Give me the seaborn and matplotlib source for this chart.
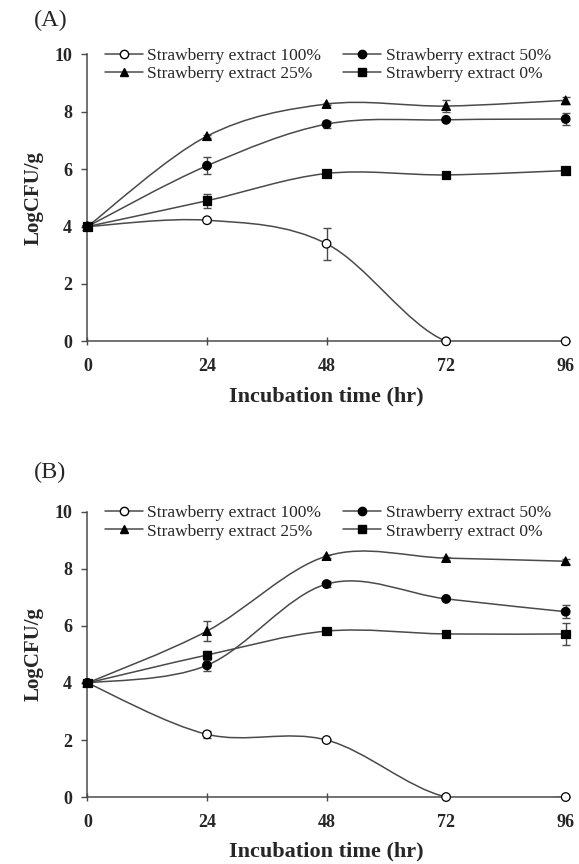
import numpy as np
import pandas as pd
import seaborn as sns
import matplotlib
matplotlib.use("Agg")
import matplotlib.pyplot as plt
from matplotlib.path import Path
from matplotlib.patches import PathPatch
from matplotlib.lines import Line2D

# ---------------- data ----------------
hours = [0, 24, 48, 72, 96]
series_names = ["Strawberry extract 100%", "Strawberry extract 50%",
                "Strawberry extract 25%", "Strawberry extract 0%"]

# Panel A
a_100 = [4.0, 4.22, 3.4, 0.0, 0.0]
a_100_err = [0.0, 0.05, 0.55, 0.0, 0.0]
a_50 = [4.0, 6.12, 7.57, 7.72, 7.75]
a_50_err = [0.0, 0.3, 0.12, 0.05, 0.22]
a_25 = [4.0, 7.15, 8.27, 8.2, 8.4]
a_25_err = [0.0, 0.05, 0.05, 0.22, 0.12]
a_0 = [4.0, 4.9, 5.85, 5.8, 5.95]
a_0_err = [0.0, 0.25, 0.1, 0.05, 0.1]

# Panel B
b_100 = [4.0, 2.2, 2.0, 0.0, 0.0]
b_100_err = [0.0, 0.12, 0.05, 0.0, 0.0]
b_50 = [4.0, 4.62, 7.47, 6.95, 6.5]
b_50_err = [0.0, 0.2, 0.1, 0.05, 0.22]
b_25 = [4.0, 5.82, 8.45, 8.38, 8.27]
b_25_err = [0.0, 0.35, 0.05, 0.05, 0.08]
b_0 = [4.0, 4.98, 5.82, 5.72, 5.72]
b_0_err = [0.0, 0.15, 0.1, 0.05, 0.4]

panel_titles = ["(A)", "(B)"]
y_ticks = [0, 2, 4, 6, 8, 10]
xlabel_text = "Incubation time (hr)"
ylabel_text = "LogCFU/g"

markers = {series_names[0]: "o", series_names[1]: "o",
           series_names[2]: "^", series_names[3]: "s"}
facecols = {series_names[0]: "white", series_names[1]: "black",
            series_names[2]: "black", series_names[3]: "black"}

LINE_C = "#4a4a4a"

sns.set_theme(style="ticks")
plt.rcParams["font.family"] = ["Liberation Serif", "DejaVu Serif"]

fig = plt.figure(figsize=(5.79, 8.64), dpi=100)
axA = fig.add_axes([0.151, 0.605, 0.826, 0.332])
axB = fig.add_axes([0.151, 0.0775, 0.826, 0.330])


def smooth_path(xs, ys):
    # Excel-style smoothed line as cubic Bezier segments
    P = list(zip(xs, ys))
    n = len(P)
    verts = [P[0]]
    codes = [Path.MOVETO]
    for i in range(n - 1):
        p0 = P[i - 1] if i > 0 else P[i]
        p1 = P[i]
        p2 = P[i + 1]
        p3 = P[i + 2] if i + 2 < n else P[i + 1]
        c1 = (p1[0] + (p2[0] - p0[0]) / 6.0, p1[1] + (p2[1] - p0[1]) / 6.0)
        c2 = (p2[0] - (p3[0] - p1[0]) / 6.0, p2[1] - (p3[1] - p1[1]) / 6.0)
        verts += [c1, c2, p2]
        codes += [Path.CURVE4, Path.CURVE4, Path.CURVE4]
    return Path(verts, codes)


def draw_panel(ax, vals, errs, title, title_y):
    rows = []
    for name, v in zip(series_names, vals):
        for h, y in zip(hours, v):
            rows.append({"hour": h, "value": y, "series": name})
    df = pd.DataFrame(rows)

    for name, v, e in zip(series_names, vals, errs):
        ax.add_patch(PathPatch(smooth_path(hours, v), fill=False,
                               edgecolor=LINE_C, lw=1.1, zorder=2,
                               clip_on=True))
        ax.errorbar(hours, v, yerr=e, fmt="none", ecolor=LINE_C,
                    elinewidth=1.0, capsize=3, capthick=1.0, zorder=3,
                    clip_on=False)

    sns.scatterplot(data=df, x="hour", y="value", hue="series",
                    style="series", markers=markers, palette=facecols,
                    edgecolor="black", linewidth=0.9, s=38, legend=False,
                    ax=ax, zorder=4, clip_on=False)

    ax.set_xlim(0, 96)
    ax.set_ylim(0, 10)
    ax.set_xticks(hours)
    ax.set_yticks(y_ticks)
    for lab in ax.get_xticklabels() + ax.get_yticklabels():
        lab.set_fontweight("bold")
        lab.set_fontsize(13)
    ax.tick_params(axis="x", direction="inout", length=6, width=1.0,
                   color=LINE_C, pad=9)
    ax.tick_params(axis="y", direction="out", length=4, width=1.0,
                   color=LINE_C, pad=7)
    sns.despine(ax=ax)
    for s in ["left", "bottom"]:
        ax.spines[s].set_color(LINE_C)
        ax.spines[s].set_linewidth(1.1)
    ax.set_xlabel(xlabel_text, fontsize=16, fontweight="bold", labelpad=8)
    ax.set_ylabel(ylabel_text, fontsize=15, fontweight="bold", labelpad=8)

    handles = []
    for name in [series_names[0], series_names[2], series_names[1], series_names[3]]:
        handles.append(Line2D([0], [0], color=LINE_C, lw=1.1,
                              marker=markers[name], markersize=6,
                              markerfacecolor=facecols[name],
                              markeredgecolor="black"))
    order_txt = [series_names[0], series_names[2], series_names[1], series_names[3]]
    ax.legend(handles, order_txt, loc="upper left", bbox_to_anchor=(0.022, 1.048),
              ncol=2, frameon=False, fontsize=12.5, handlelength=2.2,
              handletextpad=0.25, columnspacing=1.25, labelspacing=0.12,
              borderaxespad=0.0)

    ax.text(-0.113, title_y, title, transform=ax.transAxes, fontsize=17.5,
            ha="left", va="center")


draw_panel(axA, [a_100, a_50, a_25, a_0], [a_100_err, a_50_err, a_25_err, a_0_err],
           panel_titles[0], 1.118)
draw_panel(axB, [b_100, b_50, b_25, b_0], [b_100_err, b_50_err, b_25_err, b_0_err],
           panel_titles[1], 1.14)

fig.savefig("out.png", dpi=100)
